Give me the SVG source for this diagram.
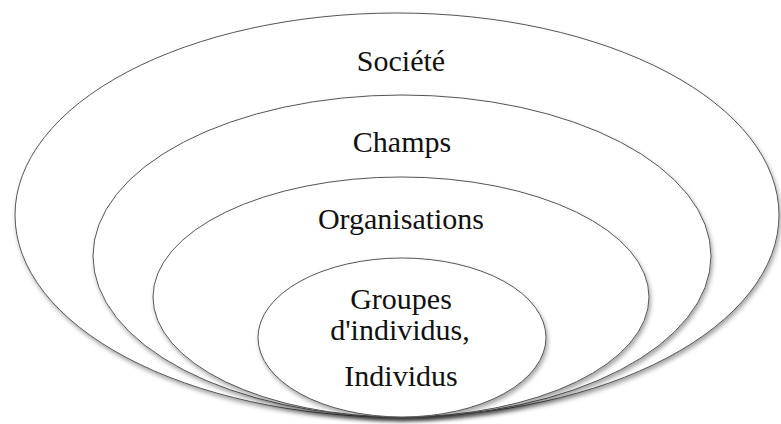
<svg xmlns="http://www.w3.org/2000/svg" width="781" height="424" viewBox="0 0 781 424">
  <defs>
    <filter id="sh" x="-5%" y="-5%" width="112%" height="115%">
      <feDropShadow dx="1.5" dy="3" stdDeviation="2" flood-color="#000" flood-opacity="0.35"/>
    </filter>
    <style>
      .ring { fill: #fff; stroke: #555; stroke-width: 1; filter: url(#sh); }
      .lbl { font-family: 'Liberation Serif', 'Tinos', 'Noto Serif', 'Nimbus Roman', 'FreeSerif', 'Times New Roman', Times, Georgia, serif; font-size: 30px; fill: #111; text-anchor: middle; }
    </style>
  </defs>
  <rect width="781" height="424" fill="#fff"/>
  <g id="societe">
    <ellipse class="ring" cx="397" cy="215" rx="382" ry="202"/>
    <text class="lbl" x="401" y="71">Société</text>
  </g>
  <g id="champs">
    <ellipse class="ring" cx="402" cy="256" rx="309" ry="161"/>
    <text class="lbl" x="402" y="152">Champs</text>
  </g>
  <g id="organisations">
    <ellipse class="ring" cx="401" cy="297" rx="248" ry="120"/>
    <text class="lbl" x="401" y="229">Organisations</text>
  </g>
  <g id="individus">
    <ellipse class="ring" cx="402" cy="337.5" rx="144" ry="79.5"/>
    <text class="lbl" x="401" y="309">Groupes</text>
    <text class="lbl" x="400" y="340">d'individus,</text>
    <text class="lbl" x="401" y="386">Individus</text>
  </g>
  <g id="connectors"/>
</svg>
